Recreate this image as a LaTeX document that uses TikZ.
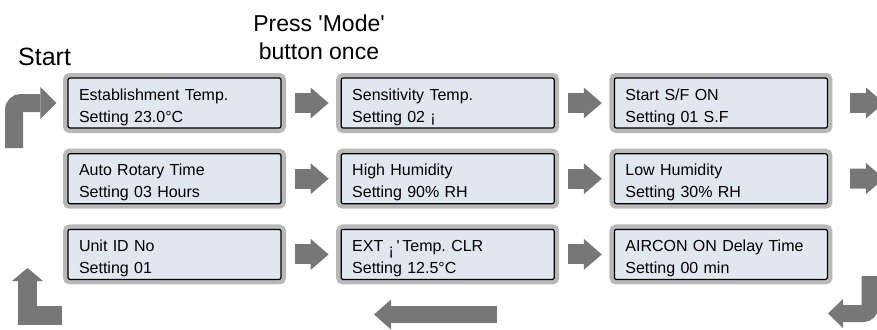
\documentclass[tikz,border=0pt]{standalone}
\usepackage{fontspec}
\setmainfont{Liberation Sans}
\usetikzlibrary{arrows.meta, positioning}
\definecolor{arrowgray}{HTML}{777777}
\definecolor{framegray}{HTML}{B8B8B8}
\definecolor{lcdfill}{HTML}{E1E7EF}
\frenchspacing

\begin{document}
\begin{tikzpicture}[x=1pt, y=-1pt,
    lcd/.style={draw=black, line width=1.2pt, fill=lcdfill, rounded corners=2pt,
      preaction={draw=framegray, line width=10pt},
      text width=191pt, inner xsep=11pt, inner ysep=0pt, align=left,
      minimum height=50pt, text height=22pt, text depth=28pt,
      font=\fontsize{16}{22}\selectfont},
    flow/.style={draw=arrowgray, line width=20pt, shorten <=13pt, shorten >=12pt,
      -{Triangle[length=18pt, width=31pt, line width=0pt]}},
    turnflow/.style={draw=arrowgray, shorten <=0pt, shorten >=0pt}]

    \useasboundingbox (0,0) rectangle (877,329);
    \clip (0,0) rectangle (877,329);

    % captions
    \node[anchor=base west, inner sep=0pt, font=\fontsize{25}{30}\selectfont]
      (startlabel) at (18,65) {Start};
    \node[anchor=north, inner sep=0pt, align=center, font=\fontsize{23}{28}\selectfont]
      (presslabel) at (319,15) {Press \textquotesingle Mode\textquotesingle\\button once};

    % display windows
    \node[lcd] (est) at (174.5,103) {Establishment Temp.\\Setting 23.0°C};
    \node[lcd, right=59pt of est] (sens) {Sensitivity Temp.\\Setting 02 ¡};
    \node[lcd, right=59pt of sens] (sf) {Start S/F ON\\Setting 01 S.F};
    \node[lcd, below=24.5pt of est] (rot) {Auto Rotary Time\\Setting 03 Hours};
    \node[lcd, below=24.5pt of sens] (high) {High Humidity\\Setting 90\% RH};
    \node[lcd, below=24.5pt of sf] (low) {Low Humidity\\Setting 30\% RH};
    \node[lcd, below=24.5pt of rot] (unit) {Unit ID No\\Setting 01};
    \node[lcd, below=24.5pt of high] (ext)
      {EXT \raisebox{-4.5pt}{¡}\,\textquotesingle\,Temp. CLR\\Setting 12.5°C};
    \node[lcd, below=24.5pt of low] (delay) {AIRCON ON Delay Time\\Setting 00 min};

    \foreach \a/\b in {est/sens, sens/sf, rot/high, high/low, unit/ext, ext/delay}
      \draw[flow] (\a) -- (\b);

    % arrows running off the right edge
    \coordinate (wrapa) at (884,103);
    \coordinate (wrapb) at (884,178.5);
    \draw[flow, shorten <=22pt, shorten >=0pt] (sf) -- (wrapa);
    \draw[flow, shorten <=22pt, shorten >=0pt] (low) -- (wrapb);

    % turning arrows
    \coordinate (startfoot) at (14,148);
    \draw[turnflow, line width=18pt, rounded corners=7pt, shorten >=11pt,
      -{Triangle[length=16pt, width=32pt, line width=0pt]}] (startfoot) |- (est);

    \coordinate (turnin) at (870,276);
    \coordinate (turnout) at (828,313.5);
    \draw[turnflow, line width=17pt, rounded corners=7pt,
      -{Triangle[length=15pt, width=29pt, line width=0pt]}] (turnin) |- (turnout);

    \coordinate (backin) at (497,314.5);
    \coordinate (backout) at (374,314.5);
    \draw[turnflow, line width=17pt,
      -{Triangle[length=17pt, width=30pt, line width=0pt]}] (backin) -- (backout);

    \coordinate (loopin) at (62,315.5);
    \coordinate (loopout) at (27.5,268);
    \draw[turnflow, line width=19pt,
      -{Triangle[length=13pt, width=31pt, line width=0pt]}] (loopin) -| (loopout);

\end{tikzpicture}
\end{document}
